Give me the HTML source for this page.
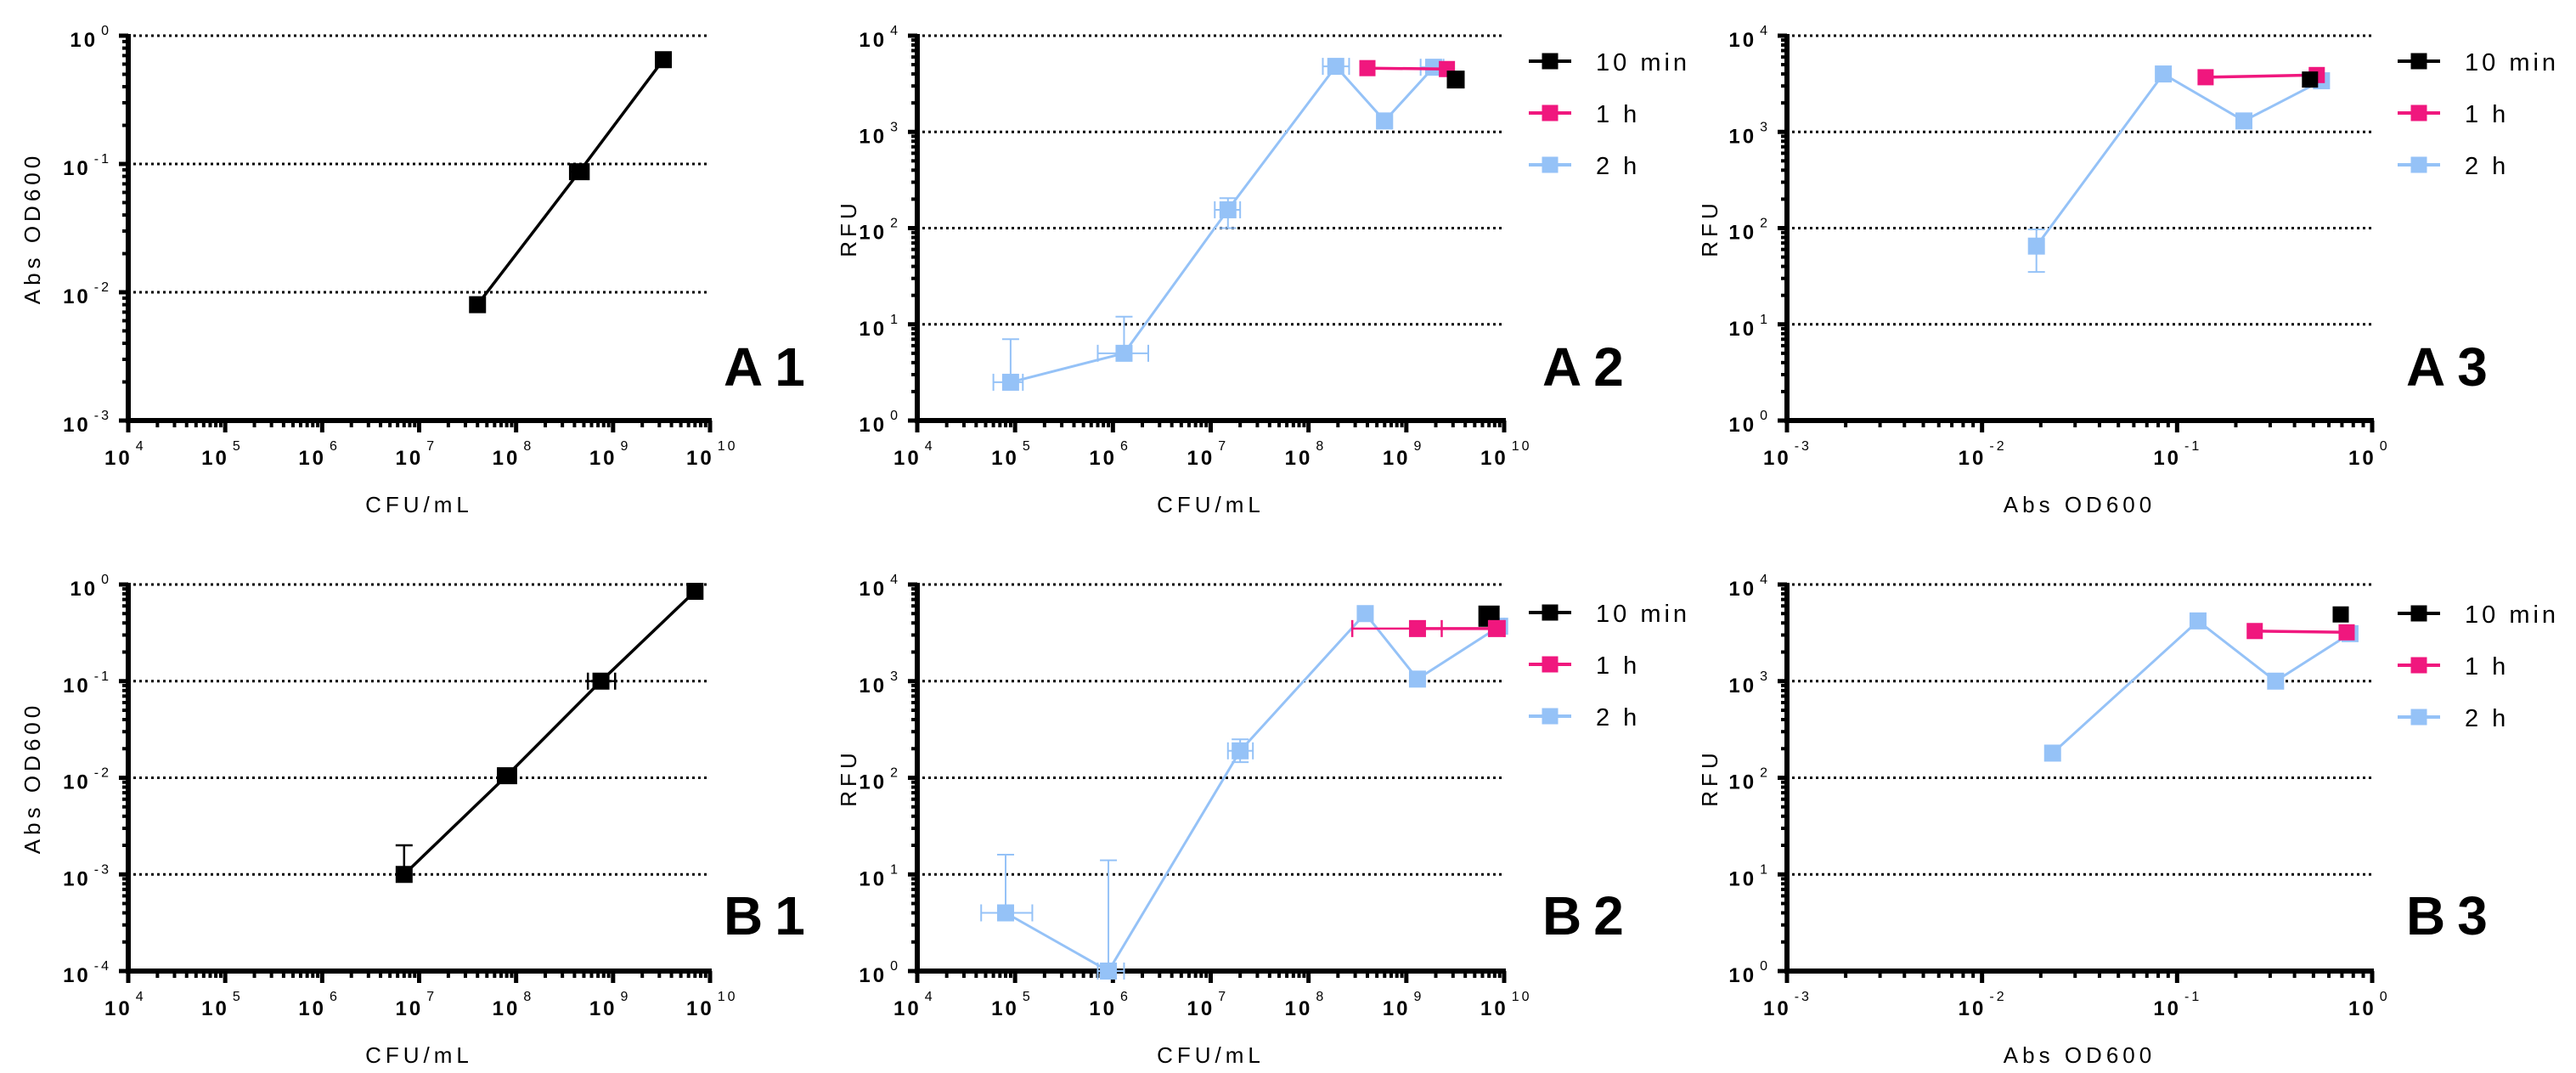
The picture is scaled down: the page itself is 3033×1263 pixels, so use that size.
<!DOCTYPE html>
<html><head><meta charset="utf-8"><style>
html,body{margin:0;padding:0;background:#fff;}
svg{display:block;font-family:"Liberation Sans",Arial,sans-serif;}
</style></head><body>
<svg id="fig" width="3033" height="1263" viewBox="0 0 3033 1263" xmlns="http://www.w3.org/2000/svg"></svg>
<script>
// ---------- data ----------
const a1X = [4e7, 4.5e8, 3.3e9];
const a1Y = [0.008, 0.087, 0.65];
const a1XErrLo = [4e7, 3.6e8, 3.3e9];
const a1XErrHi = [4e7, 5.6e8, 3.3e9];
const a1YErrHi = [0.008, 0.087, 0.65];
const b1X = [7e6, 8e7, 7.5e8, 7e9];
const b1Y = [0.001, 0.0105, 0.1, 0.85];
const b1XErrLo = [7e6, 6.5e7, 5.5e8, 7e9];
const b1XErrHi = [7e6, 1e8, 1.05e9, 7e9];
const b1YErrHi = [0.002, 0.0105, 0.1, 0.85];
const a2X2h = [9e4, 1.3e6, 1.5e7, 1.9e8, 6e8, 1.9e9];
const a2Y2h = [2.5, 5, 155, 4800, 1300, 4700];
const a2X2hErrLo = [6e4, 7e5, 1.1e7, 1.4e8, 5e8, 1.4e9];
const a2X2hErrHi = [1.2e5, 2.3e6, 2e7, 2.6e8, 7e8, 2.4e9];
const a2Y2hErrHi = [7, 12, 205, 4800, 1300, 4700];
const a2Y2hErrLo = [2.5, 5, 100, 4800, 1300, 4700];
const a2X1h = [4e8, 2.6e9];
const a2Y1h = [4600, 4500];
const a2X10m = [3.2e9];
const a2Y10m = [3500];
const a3X2h = [0.019, 0.085, 0.22, 0.55];
const a3Y2h = [65, 4000, 1300, 3400];
const a3Y2hErrHi = [97, 4000, 1300, 3400];
const a3Y2hErrLo = [35, 4000, 1300, 3400];
const a3X1h = [0.14, 0.52];
const a3Y1h = [3700, 3900];
const a3X10m = [0.48];
const a3Y10m = [3500];
const b2X2h = [8e4, 9e5, 2e7, 3.8e8, 1.3e9, 9e9];
const b2Y2h = [4, 1, 190, 5000, 1050, 3700];
const b2X2hErrLo = [4.5e4, 7e5, 1.5e7, 3.8e8, 1.3e9, 8e9];
const b2X2hErrHi = [1.5e5, 1.3e6, 2.7e7, 3.8e8, 1.3e9, 1e10];
const b2Y2hErrHi = [16, 14, 250, 5000, 1050, 3700];
const b2Y2hErrLo = [4, 1, 145, 5000, 1050, 3700];
const b2X1h = [1.3e9, 8.5e9];
const b2Y1h = [3500, 3500];
const b2X1hErrLo = [2.8e8, 7e9];
const b2X1hErrHi = [2.3e9, 1e10];
const b2X10m = [7e9];
const b2Y10m = [4700];
const b3X2h = [0.023, 0.128, 0.32, 0.77];
const b3Y2h = [180, 4200, 1000, 3100];
const b3X1h = [0.25, 0.74];
const b3Y1h = [3300, 3200];
const b3X10m = [0.69];
const b3Y10m = [4900];

const legendLabels = ["10 min", "1 h", "2 h"];
const legendColors = ["#000000", "#F0177E", "#95C2F7"];

// ---------- drawing ----------
const NS = "http://www.w3.org/2000/svg";
const svg = document.getElementById("fig");
function mk(tag, attrs, parent) {
  const e = document.createElementNS(NS, tag);
  for (const k in attrs) e.setAttribute(k, attrs[k]);
  (parent || svg).appendChild(e);
  return e;
}
const BLACK = legendColors[0], PINK = legendColors[1], BLUE = legendColors[2];

function makePanel(p) {
  const g = mk("g", {});
  
  
  const sx = v => p.x0 + (Math.log10(v) - p.xmin) / (p.xmax - p.xmin) * (p.x1 - p.x0);
  const sy = v => p.y1 - (Math.log10(v) - p.ymin) / (p.ymax - p.ymin) * (p.y1 - p.y0);
  for (let d = p.ymin + 1; d <= p.ymax; d++) {
    const gl = mk("line", {x1: p.x0 + 6, x2: p.x1, y1: sy(Math.pow(10, d)), y2: sy(Math.pow(10, d)), stroke: "#000", "stroke-width": 3, "stroke-dasharray": "3 4"}, g);
    
    
  }
  for (let d = p.ymin; d <= p.ymax; d++) {
    const y = sy(Math.pow(10, d));
    mk("line", {x1: p.x0 - 11, x2: p.x0, y1: y, y2: y, stroke: "#000", "stroke-width": 5}, g);
    if (d < p.ymax) for (let m = 2; m < 10; m++) {
      const ym = sy(m * Math.pow(10, d));
      mk("line", {x1: p.x0 - 7, x2: p.x0, y1: ym, y2: ym, stroke: "#000", "stroke-width": 4}, g);
    }
    const t = mk("text", {x: p.x0 - 20, y: y + 13, "text-anchor": "end", "font-size": 24, "font-weight": "bold", "letter-spacing": "3"}, g);
    
    
    t.appendChild(document.createTextNode("10"));
    const sup = mk("tspan", {dx: 4, dy: -14, "font-size": 16, "font-weight": "normal"}, t);
    sup.textContent = String(d);
  }
  for (let d = p.xmin; d <= p.xmax; d++) {
    const x = sx(Math.pow(10, d));
    mk("line", {x1: x, x2: x, y1: p.y1, y2: p.y1 + 14, stroke: "#000", "stroke-width": 5}, g);
    if (d < p.xmax) for (let m = 2; m < 10; m++) {
      const xm = sx(m * Math.pow(10, d));
      mk("line", {x1: xm, x2: xm, y1: p.y1, y2: p.y1 + 8, stroke: "#000", "stroke-width": 4}, g);
    }
    const t = mk("text", {x: x - 28, y: p.y1 + 52, "font-size": 24, "font-weight": "bold", "letter-spacing": "3"}, g);
    
    
    t.appendChild(document.createTextNode("10"));
    const sup = mk("tspan", {dx: 4, dy: -17, "font-size": 16, "font-weight": "normal"}, t);
    sup.textContent = String(d);
  }
  const ax = mk("path", {d: `M${p.x0},${p.y0 - 2} L${p.x0},${p.y1} L${p.x1 + 2},${p.y1}`, fill: "none", stroke: "#000", "stroke-width": 6}, g);
  
  
  const xt = mk("text", {x: (p.x0 + p.x1) / 2, y: p.y1 + 108, "text-anchor": "middle", "font-size": 26, "letter-spacing": "5"}, g);
  
  
  xt.textContent = p.xtitle;
  const cyT = (p.y0 + p.y1) / 2;
  const yt = mk("text", {x: 0, y: 0, "text-anchor": "middle", "font-size": 26, "letter-spacing": "5", transform: `translate(${p.ytx},${cyT}) rotate(-90)`}, g);
  
  
  yt.textContent = p.ytitle;
  const pl = mk("text", {x: p.labelX, y: p.y0 + 412, "font-size": 64, "font-weight": "bold", "letter-spacing": "14"}, g);
  
  
  pl.textContent = p.id;

  p.series.forEach(s => {
    const sg = mk("g", {}, g);
    
    
    const ew = s.color === BLUE ? 2 : 2.5;
    s.x.forEach((xv, i) => {
      const cx = sx(xv), cy = sy(s.y[i]);
      if (s.xlo) {
        const a = sx(s.xlo[i]), b = sx(s.xhi[i]);
        if (b - a > 4) {
          mk("line", {x1: a, x2: b, y1: cy, y2: cy, stroke: s.color, "stroke-width": ew}, sg);
          mk("line", {x1: a, x2: a, y1: cy - 10, y2: cy + 10, stroke: s.color, "stroke-width": ew}, sg);
          mk("line", {x1: b, x2: b, y1: cy - 10, y2: cy + 10, stroke: s.color, "stroke-width": ew}, sg);
        }
      }
      if (s.yhi) {
        const a = sy(s.yhi[i]), b = sy(s.ylo ? s.ylo[i] : s.y[i]);
        if (b - a > 4) {
          mk("line", {x1: cx, x2: cx, y1: a, y2: b, stroke: s.color, "stroke-width": ew}, sg);
          mk("line", {x1: cx - 10, x2: cx + 10, y1: a, y2: a, stroke: s.color, "stroke-width": ew}, sg);
          if (s.ylo && Math.abs(b - cy) > 4) mk("line", {x1: cx - 10, x2: cx + 10, y1: b, y2: b, stroke: s.color, "stroke-width": ew}, sg);
        }
      }
    });
    const pts = s.x.map((xv, i) => sx(xv).toFixed(1) + "," + sy(s.y[i]).toFixed(1)).join(" ");
    if (s.x.length > 1) {
      const pl2 = mk("polyline", {points: pts, fill: "none", stroke: s.color, "stroke-width": s.color === BLUE ? 3 : 3.5}, sg);
      
      
    }
    s.x.forEach((xv, i) => {
      const sz = s.size;
      const r = mk("rect", {x: sx(xv) - sz / 2, y: sy(s.y[i]) - sz / 2, width: sz, height: sz, fill: s.color}, sg);
      
      
    });
  });

  if (p.legend) {
    legendLabels.forEach((lab, i) => {
      const lg = mk("g", {}, g);
      
      
      const ly = p.legendY + i * 61;
      mk("line", {x1: p.legendX - 25, x2: p.legendX + 25, y1: ly, y2: ly, stroke: legendColors[i], "stroke-width": 4}, lg);
      mk("rect", {x: p.legendX - 9.5, y: ly - 9.5, width: 19, height: 19, fill: legendColors[i]}, lg);
      const t = mk("text", {x: p.legendX + 54, y: ly + 11, "font-size": 29, "letter-spacing": "4"}, lg);
      t.textContent = lab;
    });
  }
}

const rowA = {y0: 42, y1: 495};
const rowB = {y0: 688, y1: 1143};
const col1 = {x0: 151, x1: 836, ytx: 47, labelX: 852};
const col2 = {x0: 1080, x1: 1771, ytx: 1008, labelX: 1816, legendX: 1825};
const col3 = {x0: 2104, x1: 2793, ytx: 2022, labelX: 2833, legendX: 2848};

makePanel(Object.assign({id: "A1", xmin: 4, xmax: 10, ymin: -3, ymax: 0, xtitle: "CFU/mL", ytitle: "Abs OD600",
  series: [{name: "od", color: BLACK, size: 20, x: a1X, y: a1Y, xlo: a1XErrLo, xhi: a1XErrHi, yhi: a1YErrHi}]}, rowA, col1));
makePanel(Object.assign({id: "B1", xmin: 4, xmax: 10, ymin: -4, ymax: 0, xtitle: "CFU/mL", ytitle: "Abs OD600",
  series: [{name: "od", color: BLACK, size: 20, x: b1X, y: b1Y, xlo: b1XErrLo, xhi: b1XErrHi, yhi: b1YErrHi}]}, rowB, col1));
makePanel(Object.assign({id: "A2", xmin: 4, xmax: 10, ymin: 0, ymax: 4, xtitle: "CFU/mL", ytitle: "RFU", legend: true, legendY: 72,
  series: [
    {name: "2h", color: BLUE, size: 20, x: a2X2h, y: a2Y2h, xlo: a2X2hErrLo, xhi: a2X2hErrHi, yhi: a2Y2hErrHi, ylo: a2Y2hErrLo},
    {name: "1h", color: PINK, size: 19, x: a2X1h, y: a2Y1h},
    {name: "10min", color: BLACK, size: 21, x: a2X10m, y: a2Y10m}]}, rowA, col2));
makePanel(Object.assign({id: "B2", xmin: 4, xmax: 10, ymin: 0, ymax: 4, xtitle: "CFU/mL", ytitle: "RFU", legend: true, legendY: 721,
  series: [
    {name: "2h", color: BLUE, size: 20, x: b2X2h, y: b2Y2h, xlo: b2X2hErrLo, xhi: b2X2hErrHi, yhi: b2Y2hErrHi, ylo: b2Y2hErrLo},
    {name: "10min", color: BLACK, size: 25, x: b2X10m, y: b2Y10m},
    {name: "1h", color: PINK, size: 20, x: b2X1h, y: b2Y1h, xlo: b2X1hErrLo, xhi: b2X1hErrHi}]}, rowB, col2));
makePanel(Object.assign({id: "A3", xmin: -3, xmax: 0, ymin: 0, ymax: 4, xtitle: "Abs OD600", ytitle: "RFU", legend: true, legendY: 72,
  series: [
    {name: "2h", color: BLUE, size: 20, x: a3X2h, y: a3Y2h, yhi: a3Y2hErrHi, ylo: a3Y2hErrLo},
    {name: "1h", color: PINK, size: 19, x: a3X1h, y: a3Y1h},
    {name: "10min", color: BLACK, size: 19, x: a3X10m, y: a3Y10m}]}, rowA, col3));
makePanel(Object.assign({id: "B3", xmin: -3, xmax: 0, ymin: 0, ymax: 4, xtitle: "Abs OD600", ytitle: "RFU", legend: true, legendY: 722,
  series: [
    {name: "2h", color: BLUE, size: 20, x: b3X2h, y: b3Y2h},
    {name: "1h", color: PINK, size: 19, x: b3X1h, y: b3Y1h},
    {name: "10min", color: BLACK, size: 19, x: b3X10m, y: b3Y10m}]}, rowB, col3));
</script>
</body></html>
